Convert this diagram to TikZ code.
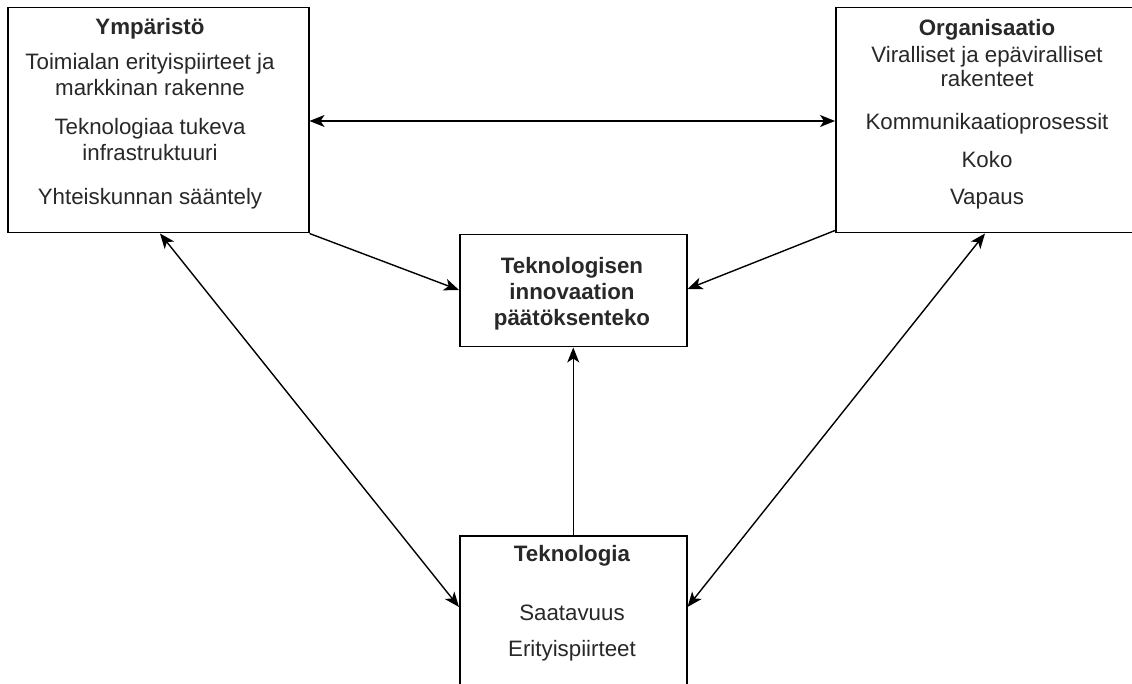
\documentclass[tikz,border=0pt]{standalone}
\usepackage{fontspec}
\setmainfont{Liberation Sans}
\usetikzlibrary{arrows.meta}
\definecolor{txtgray}{RGB}{40,40,40}
\tikzset{
  box/.style={draw=black, line width=1.5pt, anchor=north west, inner sep=0pt, fill=white},
  txt/.style={anchor=base, inner sep=0pt, align=center, text=txtgray, font=\fontsize{22.3}{26.3}\selectfont},
  btxt/.style={txt, font=\fontsize{22.3}{26.3}\selectfont\bfseries},
  tip/.style={Stealth[length=15pt,width=12pt,inset=4pt]},
  conn/.style={line width=1.4pt, -{Stealth[length=15pt,width=12pt,inset=4pt]}},
  biconn/.style={line width=1.4pt, {Stealth[length=15pt,width=12pt,inset=4pt]}-{Stealth[length=15pt,width=12pt,inset=4pt]}}
}
\begin{document}
\begin{tikzpicture}[x=1pt,y=-1pt]
\useasboundingbox (0,0) rectangle (1132,684);
\clip (0,0) rectangle (1132,684);
\fill[white] (0,0) rectangle (1132,684);
% boxes
\node[box, minimum width=301pt, minimum height=225pt] (env) at (7,7) {};
\node[box, minimum width=305pt, minimum height=225pt] (org) at (835,7) {};
\node[box, minimum width=227pt, minimum height=112pt] (dec) at (459,234) {};
\node[box, minimum width=227pt, minimum height=170pt] (tech) at (459,535) {};
% texts (anchor = baseline of the last line)
\node[btxt] (envT) at (150,35) {Ympäristö};
\node[txt] (env1) at (150,96) {Toimialan erityispiirteet ja\\markkinan rakenne};
\node[txt] (env2) at (150,161) {Teknologiaa tukeva\\infrastruktuuri};
\node[txt] (env3) at (150,205) {Yhteiskunnan sääntely};
\node[btxt] (orgT) at (987,36) {Organisaatio};
\node[txt, font=\fontsize{22.3}{24}\selectfont] (org1) at (987,87) {Viralliset ja epäviralliset\\rakenteet};
\node[txt] (org2) at (987,130) {Kommunikaatioprosessit};
\node[txt] (org3) at (987,168) {Koko};
\node[txt] (org4) at (987,205) {Vapaus};
\node[btxt] (decT) at (572,326) {Teknologisen\\innovaation\\päätöksenteko};
\node[btxt] (techT) at (572,561) {Teknologia};
\node[txt] (tech1) at (572,620) {Saatavuus};
\node[txt] (tech2) at (572,656) {Erityispiirteet};
% connectors
\draw[biconn] ([yshift=-114pt]env.north east) -- ([yshift=-114pt]org.north west);
\draw[conn] (env.south east) -- ([yshift=-56pt]dec.north west);
\draw[conn] ([yshift=3pt]org.south west) -- ([yshift=-55pt]dec.north east);
\draw[conn] (tech.north) -- (dec.south);
\draw[biconn] ([xshift=153pt]env.south west) -- ([yshift=-72pt]tech.north west);
\draw[biconn] ([xshift=150pt]org.south west) -- ([yshift=-72pt]tech.north east);
\end{tikzpicture}
\end{document}
